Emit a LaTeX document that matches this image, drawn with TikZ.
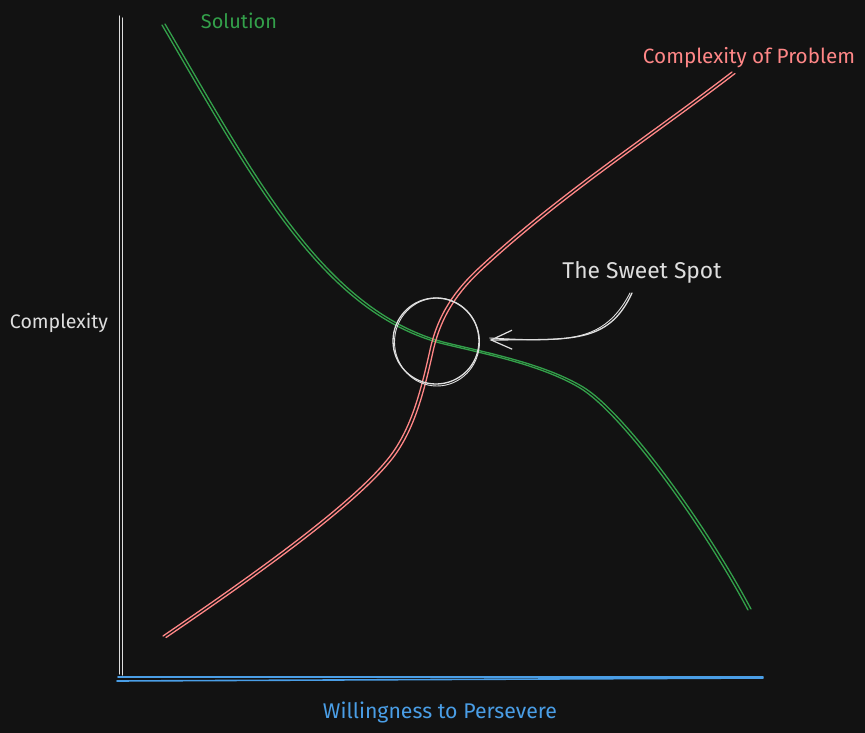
\documentclass[tikz,border=0pt]{standalone}
\usepackage{fontspec}
\setmainfont{Fira Sans}
\usetikzlibrary{arrows.meta}
\definecolor{bg}{HTML}{121212}
\definecolor{grn}{HTML}{33A04A}
\definecolor{rd}{HTML}{FF8787}
\definecolor{bl}{HTML}{4A9EE6}
\definecolor{wh}{HTML}{DEDEDE}
\newcommand{\fitw}[2]{\resizebox{#1}{!}{#2}}
\begin{document}
\begin{tikzpicture}[x=1pt,y=-1pt,
  stroke/.style={line width=1.3pt, line cap=round, line join=round},
  lbl/.style={inner sep=0pt, anchor=center}]
\fill[bg] (0,0) rectangle (865,733);
\useasboundingbox (0,0) rectangle (865,733);

% axes
\coordinate (ytop) at (121,17);
\coordinate (orig) at (121,677);
\coordinate (xend) at (763,678);
\draw[wh,stroke] ([xshift=-1.5pt,yshift=1pt]ytop) -- ([xshift=-1.5pt,yshift=3pt]orig);
\draw[wh,stroke] ([xshift=1.5pt,yshift=-1pt]ytop) -- ([xshift=1.5pt,yshift=2pt]orig);
\draw[bl,stroke,line width=1.6pt] ([xshift=-4pt,yshift=-4pt]orig) -- (xend);
\draw[bl,stroke,line width=1.6pt] ([xshift=-3pt,yshift=0pt]orig) -- ([yshift=1pt]xend);

% labels
\node[lbl,text=grn] (sol) at (239,21) {\fitw{76pt}{Solution}};
\node[lbl,text=rd] (cop) at (749,58) {\fitw{212pt}{Complexity of Problem}};
\node[lbl,text=wh] (cx) at (59,323) {\fitw{98pt}{Complexity}};
\node[lbl,text=bl] (wtp) at (440,712) {\fitw{234pt}{Willingness to Persevere}};
\node[lbl,text=wh] (tss) at (642,272) {\fitw{159pt}{The Sweet Spot}};

% solution curve (two strands)
\foreach \dx/\dy in {0/0, 3/-1}{
\begin{scope}[shift={(\dx,\dy)}]
\draw[grn,stroke] (162,25) .. controls (250,175) and (320,310) .. (440,343)
  .. controls (480,353) and (540,364) .. (580,388)
  .. controls (620,412) and (700,520) .. (748,610);
\end{scope}
}

% problem curve (two strands)
\foreach \dx/\dy in {0/0, 3/1.5}{
\begin{scope}[shift={(\dx,\dy)}]
\draw[rd,stroke] (163,636) .. controls (260,570) and (350,505) .. (387,460)
  .. controls (410,432) and (420,395) .. (430,350)
  .. controls (438,314) and (455,290) .. (480,267)
  .. controls (560,193) and (650,135) .. (732,72);
\end{scope}
}

% sweet spot circle
\node[circle, draw=wh, stroke, minimum size=86pt, inner sep=0pt] (spot) at (436,341) {};
\draw[wh, line width=0.9pt] ([xshift=1pt,yshift=-1pt]spot.center) ellipse [x radius=42.5pt, y radius=44pt];

% arrow
\coordinate (astart) at (632,293);
\coordinate (atip) at ([xshift=10pt,yshift=1pt]spot.east);
\draw[wh,stroke,-{Straight Barb[length=21pt,width=19pt,line width=1.2pt]}]
  (astart) .. controls (608,345) and (570,339) .. (atip);
\draw[wh,stroke,line width=0.9pt]
  ([xshift=-2pt]astart) .. controls (604,343) and (568,342) .. ([yshift=2pt]atip);
\end{tikzpicture}
\end{document}
